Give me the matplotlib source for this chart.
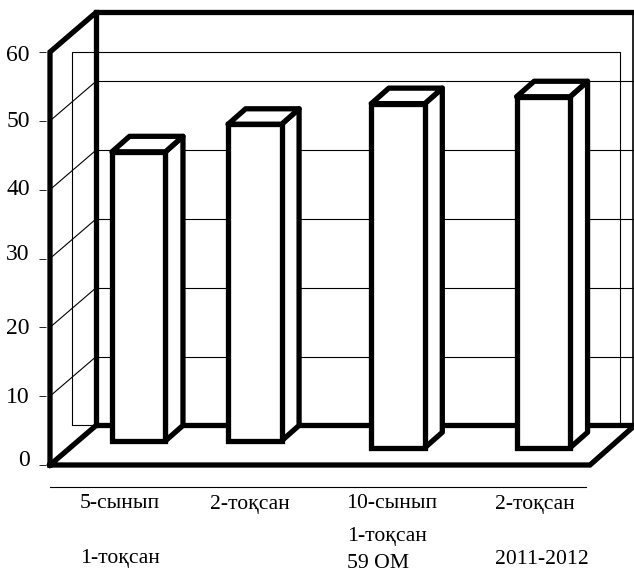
import matplotlib
matplotlib.use('Agg')
import matplotlib.pyplot as plt
from matplotlib.patches import Polygon
from matplotlib.transforms import ScaledTranslation

# values
bar_values = [42, 46, 50, 51]
bar_bases = [3.5, 3.5, 2.5, 2.5]
bar_centers = [0.657, 1.517, 2.578, 3.654]
y_ticks = [0, 10, 20, 30, 40, 50, 60]
# the numbers in the picture do not sit exactly on their ticks (pixels up)
y_label_shift = [7, 1, 1, 6, 3, 2, -1]
labels_row1 = ['5-сынып', '2-тоқсан', '10-сынып', '2-тоқсан']
labels_row1_x = [120, 250, 392, 535]
labels_low = ['1-тоқсан', '1-тоқсан', '59 ОМ', '2011-2012']
labels_low_x = [120, 347, 347, 495]
labels_low_y = [559, 537, 564, 560]
labels_low_ha = ['center', 'left', 'left', 'left']

W, H = 634, 574
THICK = 3.8
THIN = 0.8
BAR_WIDTH = 0.396
# oblique offsets, in axis units
WALL_DX, WALL_DY = 0.341, 5.74
BAR_DX, BAR_DY = 0.13, 2.25

plt.rcParams['font.family'] = ['Liberation Serif', 'DejaVu Serif']

fig = plt.figure(figsize=(W / 100, H / 100), dpi=100)
ax = fig.add_axes([50 / W, (H - 465) / H, 540 / W, 413 / H])
ax.set_xlim(0, 4)
ax.set_ylim(0, 60)
ax.patch.set_visible(False)

def line(xs, ys, lw, z=1):
    ax.plot(xs, ys, color='black', lw=lw, clip_on=False, zorder=z,
            solid_capstyle='projecting', solid_joinstyle='miter')

# thin plane behind the bars
plane_l, plane_r = 0.163, 4.22
line([plane_l, plane_l, plane_r, plane_r], [WALL_DY, 60, 60, WALL_DY], THIN)
line([plane_l, WALL_DX], [WALL_DY, WALL_DY], THIN)

# grid on the back wall and the left wall
for t in y_ticks[1:-1]:
    line([WALL_DX, 4 + WALL_DX - 0.02], [t + WALL_DY, t + WALL_DY], THIN)
    line([0, WALL_DX], [t, t + WALL_DY], THIN)
line([4 + WALL_DX - 0.02] * 2, [WALL_DY, 60 + WALL_DY], THIN + 0.4)

# thick frame
line([0, 0, WALL_DX, 4 + WALL_DX], [0, 60, 60 + WALL_DY, 60 + WALL_DY], THICK, 2)
line([WALL_DX, WALL_DX], [WALL_DY, 60 + WALL_DY], THICK, 2)
line([0, 4, 4 + WALL_DX - 0.01, WALL_DX, 0], [0, 0, WALL_DY, WALL_DY, 0], THICK, 2)

# bars: front from ax.bar, side and top from the same values
for cx, base, val in zip(bar_centers, bar_bases, bar_values):
    l, r = cx - BAR_WIDTH / 2, cx + BAR_WIDTH / 2
    top = base + val
    side = Polygon([(r, base), (r + BAR_DX, base + BAR_DY), (r + BAR_DX, top + BAR_DY), (r, top)],
                   fc='white', ec='black', lw=THICK, joinstyle='round', clip_on=False, zorder=3)
    lid = Polygon([(l, top), (l + BAR_DX, top + BAR_DY), (r + BAR_DX, top + BAR_DY), (r, top)],
                  fc='white', ec='black', lw=THICK, joinstyle='round', clip_on=False, zorder=3)
    ax.add_patch(side)
    ax.add_patch(lid)
ax.bar(bar_centers, bar_values, BAR_WIDTH, bottom=bar_bases, fc='white', ec='black',
       lw=THICK, clip_on=False, zorder=4)

# axes
for s in ['top', 'right', 'left']:
    ax.spines[s].set_visible(False)
ax.spines['left'].set_position(('outward', 3))
ax.spines['bottom'].set_position(('outward', 16))
ax.spines['bottom'].set_bounds(0, 3.97)
ax.spines['bottom'].set_linewidth(THIN)
ax.set_xticks([])
ax.set_yticks(y_ticks)
ax.tick_params(axis='y', length=5, width=0.7, pad=6.5, labelsize=17, color='#222222')
for lab, dy in zip(ax.get_yticklabels(), y_label_shift):
    lab.set_transform(lab.get_transform() + ScaledTranslation(0, dy / 100, fig.dpi_scale_trans))

# category labels
for x, txt in zip(labels_row1_x, labels_row1):
    fig.text(x / W, 1 - 504 / H, txt, fontsize=15.6, ha='center', va='center')
for x, y, txt, ha in zip(labels_low_x, labels_low_y, labels_low, labels_low_ha):
    fig.text(x / W, 1 - y / H, txt, fontsize=15.6, ha=ha, va='center')

fig.savefig('out.png', dpi=100)
